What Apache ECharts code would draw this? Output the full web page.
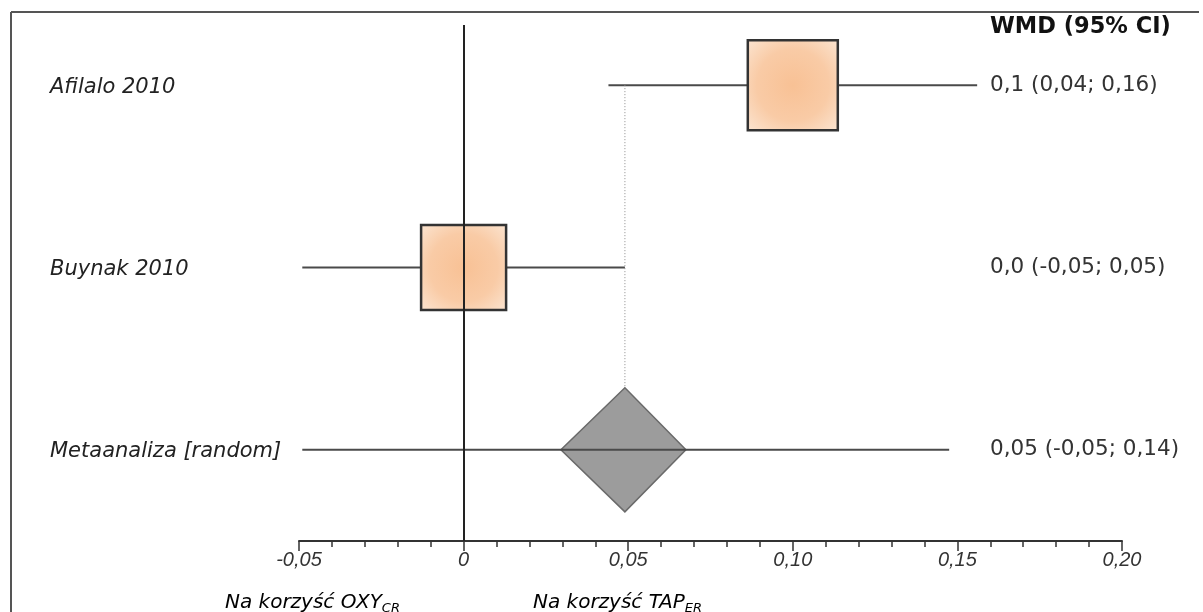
<!DOCTYPE html>
<html>
<head>
<meta charset="utf-8">
<script src="https://cdn.jsdelivr.net/npm/echarts@6/dist/echarts.min.js"></script>
<style>html,body{margin:0;padding:0;background:#fff;}#c{width:1203px;height:612px;}</style>
</head>
<body>
<div id="c"></div>
<script>
// ---- data ----
const categories = ['Afilalo 2010', 'Buynak 2010', 'Metaanaliza [random]'];
const rows = [2, 1, 0];
const estimates = [0.10, 0.0, 0.049];
const lower = [0.044, -0.049, -0.049];
const upper = [0.156, 0.049, 0.1475];
const ciLabels = ['0,1 (0,04; 0,16)', '0,0 (-0,05; 0,05)', '0,05 (-0,05; 0,14)'];
const headerLabel = 'WMD (95% CI)';
const favourLeft = ['Na korzyść OXY', 'CR'];
const favourRight = ['Na korzyść TAP', 'ER'];
const xMin = -0.05, xMax = 0.20, xStep = 0.05;

// ---- layout / style (not data) ----
const BOX_PX = [90, 85, 0];
const DIAMOND = { wl: 64, wr: 61, h: 62 };
const LEFT_TEXT_X = 50, RIGHT_TEXT_X = 990;

const chart = echarts.init(document.getElementById('c'), null, { renderer: 'canvas' });

const seriesData = rows.map((r, i) => [r, estimates[i], lower[i], upper[i]]);

function renderItem(params, api) {
  const i = params.dataIndex;
  const y = api.value(0), est = api.value(1), lo = api.value(2), hi = api.value(3);
  const p0 = api.coord([lo, y]), p1 = api.coord([hi, y]), c = api.coord([est, y]);
  const kids = [];
  const ciLine = { type: 'line', shape: { x1: p0[0], y1: p0[1], x2: p1[0], y2: p1[1] },
    style: { stroke: '#4a4a4a', lineWidth: 2 } };
  if (i === 2) {
    const top = api.coord([est, rows[0]]);
    kids.push({ type: 'line', shape: { x1: c[0], y1: top[1], x2: c[0], y2: c[1] - DIAMOND.h },
      style: { stroke: '#8a8a8a', lineWidth: 1, lineDash: [1, 2] } });
    kids.push({ type: 'polygon', shape: { points: [
        [c[0] - DIAMOND.wl, c[1]], [c[0], c[1] - DIAMOND.h], [c[0] + DIAMOND.wr, c[1]], [c[0], c[1] + DIAMOND.h]] },
      style: { fill: '#9c9c9c', stroke: '#6a6a6a', lineWidth: 1.5 } });
    kids.push(ciLine);
  } else {
    kids.push(ciLine);
    const s = BOX_PX[i];
    kids.push({ type: 'rect', shape: { x: c[0] - s / 2, y: c[1] - s / 2, width: s, height: s },
      style: { fill: { type: 'radial', x: 0.5, y: 0.5, r: 0.65, colorStops: [
          { offset: 0, color: '#f8c195' }, { offset: 0.6, color: '#f9cba6' }, { offset: 1, color: '#fbe1cb' }] },
        stroke: '#333', lineWidth: 2.5 } });
  }
  kids.push({ type: 'text', style: { text: categories[i], x: LEFT_TEXT_X, y: c[1] + 2,
    fill: '#222', fontSize: 21, fontStyle: 'italic', fontFamily: 'DejaVu Sans',
    align: 'left', textAlign: 'left', verticalAlign: 'middle', textVerticalAlign: 'middle' } });
  kids.push({ type: 'text', style: { text: ciLabels[i], x: RIGHT_TEXT_X, y: c[1],
    fill: '#333', fontSize: 21.5, fontFamily: 'DejaVu Sans',
    align: 'left', textAlign: 'left', verticalAlign: 'middle', textVerticalAlign: 'middle' } });
  return { type: 'group', children: kids };
}

function favourText(parts, x) {
  return { type: 'text', x: x, y: 603, silent: true,
    style: { text: '{a|' + parts[0] + '}{b|' + parts[1] + '}',
      verticalAlign: 'middle', textVerticalAlign: 'middle',
      rich: {
        a: { fontSize: 20, fontStyle: 'italic', fontFamily: 'DejaVu Sans', color: '#222', lineHeight: 24 },
        b: { fontSize: 13, fontStyle: 'italic', fontFamily: 'DejaVu Sans', color: '#222', verticalAlign: 'bottom' }
      } } };
}

const option = {
  animation: false,
  backgroundColor: '#fff',
  title: { text: headerLabel, left: RIGHT_TEXT_X, top: 16, padding: 0,
    textStyle: { fontFamily: 'DejaVu Sans', fontWeight: 'bold', fontSize: 22.5, color: '#111' } },
  grid: { left: 299, right: 81, top: 25, bottom: 71, containLabel: false },
  xAxis: {
    type: 'value', min: xMin, max: xMax, interval: xStep, position: 'bottom',
    axisLine: { show: true, onZero: false, lineStyle: { color: '#333', width: 2 } },
    axisTick: { show: true, length: 10, inside: false, lineStyle: { color: '#333', width: 1.5 } },
    minorTick: { show: true, splitNumber: 5, length: 6, lineStyle: { color: '#333', width: 1.5 } },
    splitLine: { show: false },
    axisLabel: { margin: 9, fontFamily: 'Liberation Sans', fontStyle: 'italic', fontSize: 20, color: '#333',
      formatter: v => Math.abs(v) < 1e-9 ? '0' : v.toFixed(2).replace('.', ',') }
  },
  yAxis: { type: 'value', min: -0.5, max: 2.33, show: false, splitLine: { show: false } },
  graphic: [
    { type: 'line', silent: true, shape: { x1: 11, y1: 12, x2: 1199, y2: 12 }, style: { stroke: '#555', lineWidth: 2 } },
    { type: 'line', silent: true, shape: { x1: 11, y1: 12, x2: 11, y2: 612 }, style: { stroke: '#555', lineWidth: 2 } },
    favourText(favourLeft, 225),
    favourText(favourRight, 533)
  ],
  series: [
    { type: 'custom', renderItem: renderItem, data: seriesData, z: 2, silent: true,
      encode: { x: [1, 2, 3], y: 0 } },
    { type: 'line', data: [], z: 10, silent: true,
      markLine: { silent: true, symbol: 'none', animation: false, label: { show: false },
        lineStyle: { color: '#222', width: 2, type: 'solid' }, data: [{ xAxis: 0 }] } }
  ]
};
chart.setOption(option);
</script>
</body>
</html>
